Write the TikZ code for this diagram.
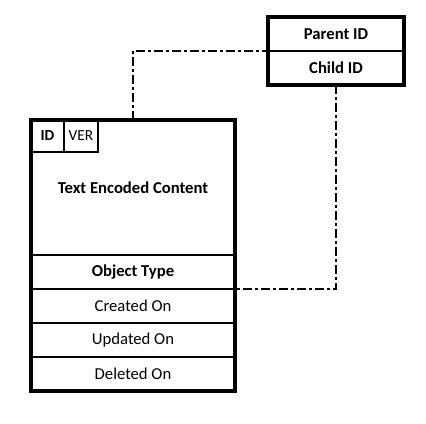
\documentclass[tikz,border=0pt]{standalone}
\usepackage{fontspec}
\setmainfont{Carlito}
\usetikzlibrary{positioning}
\tikzset{
  cell/.style={draw,line width=1.6pt,outer sep=0pt,inner sep=0pt,
    minimum width=153pt,minimum height=25.5pt,align=center,
    font=\fontsize{12.5}{14}\selectfont},
  keycell/.style={cell,minimum width=102pt},
  tinycell/.style={cell,minimum width=24.75pt,minimum height=24pt,
    font=\fontsize{11.5}{13}\selectfont},
  frame/.style={draw,line width=2.4pt},
  link/.style={draw,line width=1.6pt,
    dash pattern=on 6.75pt off 2.25pt on 2.25pt off 2.25pt},
}

\begin{document}
\begin{tikzpicture}[x=0.75pt,y=-0.75pt]
  \useasboundingbox (0,0) rectangle (426,424);
  % document record
  \node[cell,minimum height=101.25pt] (content) at (133,187.5) {\textbf{Text Encoded Content}};
  \node[cell,below=0pt of content] (objtype) {\textbf{Object Type}};
  \node[cell,below=0pt of objtype] (created) {Created On};
  \node[cell,below=0pt of created] (updated) {Updated On};
  \node[cell,below=0pt of updated] (deleted) {Deleted On};
  \node[tinycell,anchor=north west] (idcell) at (content.north west) {\textbf{ID}};
  \node[tinycell,minimum width=25.5pt,right=0pt of idcell] (vercell) {VER};
  \draw[frame] (content.north west) rectangle (deleted.south east);
  % relation table
  \node[keycell] (parent) at (336,34) {\textbf{Parent ID}};
  \node[keycell,below=0pt of parent] (child) {\textbf{Child ID}};
  \draw[frame] (parent.north west) rectangle (child.south east);
  % links
  \draw[link] (content.north) |- (parent.south west);
  \draw[link] (child.south) |- (created.north east);
\end{tikzpicture}
\end{document}
